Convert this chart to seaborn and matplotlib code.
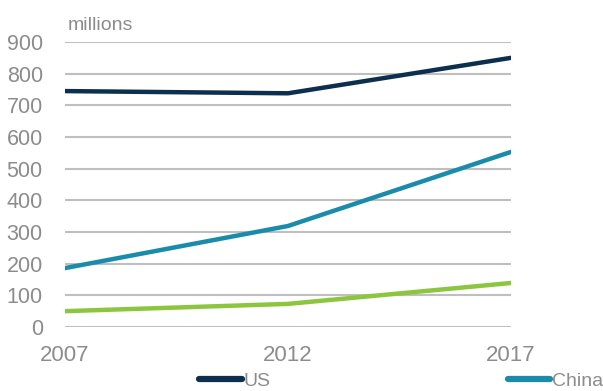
import matplotlib
matplotlib.use("Agg")
import matplotlib.pyplot as plt
from matplotlib.lines import Line2D
import seaborn as sns
import pandas as pd

years = [2007, 2012, 2017]
us = [745, 738, 850]
china = [186, 319, 553]
other = [50, 73, 139]
series_names = ["US", "China", "Other"]
colors = {"US": "#0c2f4e", "China": "#1a8bab", "Other": "#8cc63f"}
y_ticks = [0, 100, 200, 300, 400, 500, 600, 700, 800, 900]

df = pd.DataFrame({
    "year": years * 3,
    "value": us + china + other,
    "series": [s for s in series_names for _ in years],
})

sns.set_theme(style="white")
plt.rcParams["font.family"] = ["Liberation Sans", "DejaVu Sans"]

fig = plt.figure(figsize=(6.03, 3.91), dpi=100)
ax = fig.add_axes([65 / 603, 1 - 327 / 391, (511 - 65) / 603, (327 - 42) / 391])

sns.lineplot(data=df, x="year", y="value", hue="series", palette=colors,
             hue_order=["Other", "China", "US"], linewidth=3.2, legend=False,
             ax=ax, solid_capstyle="round")

ax.set_xlim(2007, 2017)
ax.set_ylim(0, 900)
ax.set_yticks(y_ticks)
ax.set_xticks(years)
ax.set_xlabel("")
ax.set_ylabel("")
ax.grid(axis="y", color="#bfbfbf", linewidth=1.5)
ax.grid(axis="x", visible=False)
ax.set_axisbelow(True)
for sp in ax.spines.values():
    sp.set_visible(False)
ax.tick_params(axis="y", labelsize=15.5, colors="#8c8c8c", length=0, pad=16)
ax.tick_params(axis="x", labelsize=16, colors="#8c8c8c", length=0, pad=13)

fig.text(68 / 603, 1 - 25 / 391, "millions", fontsize=14, color="#8c8c8c",
         ha="left", va="center")

handles = [Line2D([], [], color=colors["US"], linewidth=4.5, solid_capstyle="round"),
           Line2D([], [], color=colors["China"], linewidth=4.5, solid_capstyle="round")]
leg = fig.legend(handles, ["US", "China"], loc="center left",
                 bbox_to_anchor=(199 / 603, 1 - 381 / 391), ncol=2, frameon=False,
                 fontsize=14, handlelength=2.2, handletextpad=0.08,
                 columnspacing=12.2, borderpad=0, borderaxespad=0)
for t in leg.get_texts():
    t.set_color("#8c8c8c")

fig.savefig("out.png", dpi=100)
